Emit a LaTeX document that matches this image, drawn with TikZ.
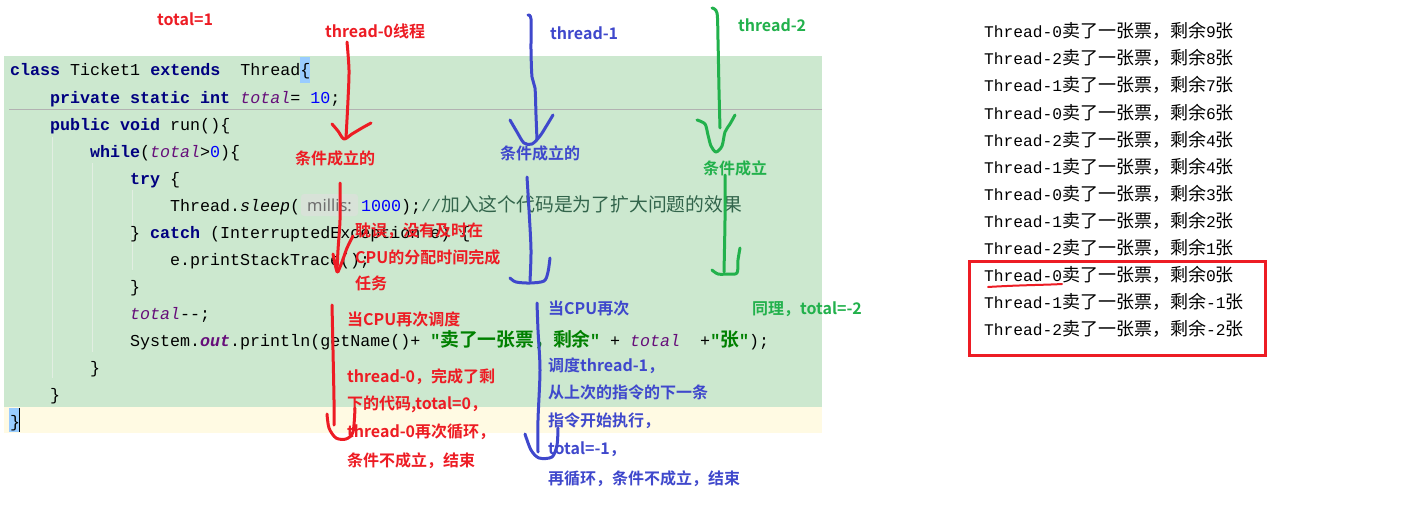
\documentclass[tikz,border=0pt]{standalone}
\usepackage{fontspec}
\newfontfamily\codefont{Liberation Mono}
\newfontfamily\cjk{Noto Sans CJK SC}[BoldFont={Noto Sans CJK SC Bold}]
\newfontfamily\hintfont{Noto Sans}
\newcommand\zc[1]{{\cjk\fontsize{18.8}{20}\selectfont #1}}
\newcommand\zo[1]{{\cjk\fontsize{18}{20}\selectfont #1}}
\newcommand\kwd[1]{{\bfseries\color{kwc}#1}}
\newcommand\fldv[1]{{\itshape\color{fieldc}#1}}
\newcommand\numv[1]{{\color{numc}#1}}
\newcommand\strv[1]{{\bfseries\color{strc}#1}}
\definecolor{codebg}{RGB}{204,232,207}
\definecolor{curbg}{RGB}{255,250,227}
\definecolor{kwc}{RGB}{0,0,128}
\definecolor{fieldc}{RGB}{102,14,122}
\definecolor{numc}{RGB}{0,0,255}
\definecolor{strc}{RGB}{0,128,0}
\definecolor{cmtc}{RGB}{50,100,75}
\definecolor{hintbg}{RGB}{216,226,216}
\definecolor{hinttx}{RGB}{110,110,110}
\definecolor{bracebg}{RGB}{153,204,255}
\definecolor{guide}{RGB}{226,238,226}
\definecolor{annR}{RGB}{237,28,36}
\definecolor{annB}{RGB}{63,72,204}
\definecolor{annG}{RGB}{34,177,76}
\tikzset{
  code/.style={anchor=base west, inner sep=0, font=\codefont\fontsize{16.67}{20}\selectfont, text=black},
  outl/.style={anchor=base west, inner sep=0, font=\codefont\fontsize{16.25}{18}\selectfont, text=black},
  ann/.style={anchor=base west, inner sep=0, font=\cjk\bfseries\fontsize{16}{18}\selectfont},
  hintbox/.style={fill=hintbg, rounded corners=3, inner sep=0, minimum width=57, minimum height=22, text=hinttx, font=\hintfont\fontsize{16.5}{17}\selectfont},
  pen/.style={line width=3, line cap=round, line join=round},
}
\begin{document}
\begin{tikzpicture}[x=1pt,y=-1pt]
\useasboundingbox (0,0) rectangle (1427,519);
\fill[white] (0,0) rectangle (1427,519);
% code background
\fill[codebg] (4,56) rectangle (822,407);
\fill[curbg] (4,407) rectangle (822,433);
\draw[gray!60, line width=1] (9,109) -- (822,109);
% indent guides
\draw[guide, line width=1] (52,137) -- (52,378);
\draw[guide, line width=1] (92,163) -- (92,352);
\draw[guide, line width=1] (132,190) -- (132,270);
% brace highlights
\fill[bracebg] (300,57) rectangle (310,83);
\fill[bracebg] (9,408) rectangle (19,432);
\draw[black, line width=1.5] (19.5,408) -- (19.5,432);
% code lines
\node[code] (c1) at (10,76) {\kwd{class} Ticket1 \kwd{extends}\ \ Thread\{};
\node[code] (c2) at (50,103) {\kwd{private static int} \fldv{total}= \numv{10};};
\node[code] (c3) at (50,130) {\kwd{public void} run()\{};
\node[code] (c4) at (90,157) {\kwd{while}(\fldv{total}>\numv{0})\{};
\node[code] (c5) at (130,184) {\kwd{try} \{};
\node[code] (c6a) at (170,211) {Thread.{\itshape sleep}(};
\node[hintbox] (hint) at (329.5,205) {millis:};
\node[code] (c6b) at (361,211) {\numv{1000});{\color{cmtc}//\zc{加入这个代码是为了扩大问题的效果}}};
\node[code] (c7) at (130,238) {\} \kwd{catch} (InterruptedException e) \{};
\node[code] (c8) at (170,265) {e.printStackTrace();};
\node[code] (c9) at (130,292) {\}};
\node[code] (c10) at (130,319) {\fldv{total}-{}-;};
\node[code] (c11a) at (130,346) {System.{\bfseries\itshape\color{fieldc}out}.println(getName()+ \strv{"\zc{卖了一张票，剩余}}};
\node[code] (c11b) at (590,346) {\strv{"}\ +\ \fldv{total}\ \ +\strv{"\zc{张}"});};
\node[code] (c12) at (90,373) {\}};
\node[code] (c13) at (50,400) {\}};
\node[code] (c14) at (10,427) {\}};
% console output
\node[outl] (o1) at (984,38) {Thread-0\zo{卖了一张票，剩余}9\zo{张}};
\node[outl] (o2) at (984,65) {Thread-2\zo{卖了一张票，剩余}8\zo{张}};
\node[outl] (o3) at (984,92) {Thread-1\zo{卖了一张票，剩余}7\zo{张}};
\node[outl] (o4) at (984,119) {Thread-0\zo{卖了一张票，剩余}6\zo{张}};
\node[outl] (o5) at (984,146) {Thread-2\zo{卖了一张票，剩余}4\zo{张}};
\node[outl] (o6) at (984,173) {Thread-1\zo{卖了一张票，剩余}4\zo{张}};
\node[outl] (o7) at (984,200) {Thread-0\zo{卖了一张票，剩余}3\zo{张}};
\node[outl] (o8) at (984,227) {Thread-1\zo{卖了一张票，剩余}2\zo{张}};
\node[outl] (o9) at (984,254) {Thread-2\zo{卖了一张票，剩余}1\zo{张}};
\node[outl] (o10) at (984,281) {Thread-0\zo{卖了一张票，剩余}0\zo{张}};
\node[outl] (o11) at (984,308) {Thread-1\zo{卖了一张票，剩余}-1\zo{张}};
\node[outl] (o12) at (984,335) {Thread-2\zo{卖了一张票，剩余}-2\zo{张}};
\draw[annR, line width=3] (969,261) rectangle (1265,355);
\draw[annR, line width=2, line cap=round] (988,287) .. controls (1020,285) and (1045,285) .. (1062,284);
% red annotations
\node[ann, text=annR] (r0) at (157,26) {total=1};
\node[ann, text=annR] (r1) at (325,38) {thread-0线程};
\node[ann, text=annR] (r2) at (295,164) {条件成立的};
\node[ann, text=annR] (r3) at (355,236) {耽误，没有及时在};
\node[ann, text=annR] (r4) at (355,263) {CPU的分配时间完成};
\node[ann, text=annR] (r5) at (355,289) {任务};
\node[ann, text=annR] (r6) at (347,325) {当CPU再次调度};
\node[ann, text=annR] (r7) at (347,382) {thread-0，完成了剩};
\node[ann, text=annR] (r8) at (347,409) {下的代码,total=0，};
\node[ann, text=annR] (r9) at (347,437) {thread-0再次循环，};
\node[ann, text=annR] (r10) at (347,466) {条件不成立，结束};
% blue annotations
\node[ann, text=annB] (b1) at (550,40) {thread-1};
\node[ann, text=annB] (b2) at (500,159) {条件成立的};
\node[ann, text=annB] (b3) at (548,314) {当CPU再次};
\node[ann, text=annB] (b4) at (548,371) {调度thread-1，};
\node[ann, text=annB] (b5) at (548,398) {从上次的指令的下一条};
\node[ann, text=annB] (b6) at (548,426) {指令开始执行，};
\node[ann, text=annB] (b7) at (548,454) {total=-1，};
\node[ann, text=annB] (b8) at (548,484) {再循环，条件不成立，结束};
% green annotations
\node[ann, text=annG] (g1) at (738,32) {thread-2};
\node[ann, text=annG] (g2) at (703,174) {条件成立};
\node[ann, text=annG] (g3) at (752,314) {同理，total=-2};
% red strokes
\draw[pen, annR] plot[smooth] coordinates {(347,42) (349,70) (348,100) (346,138)};
\draw[pen, annR] plot[smooth] coordinates {(332,124) (338,131) (344,139) (352,134) (362,128) (371,123)};
\draw[pen, annR] plot[smooth] coordinates {(340,183) (340,220) (338,250) (337,271)};
\draw[pen, annR] plot[smooth] coordinates {(333,254) (335,264) (337,272)};
\draw[pen, annR] plot[smooth] coordinates {(353,236) (347,248) (342,262) (338,272)};
\draw[pen, annR] plot[smooth] coordinates {(332,305) (333,350) (334,400) (334,425)};
\draw[pen, annR] plot[smooth] coordinates {(327,414) (329,428) (336,438) (346,439) (353,432) (355,408)};
% blue strokes
\draw[pen, annB] plot[smooth] coordinates {(528,15) (531,19) (531,50) (532,77) (535,88) (536,115) (537,140)};
\draw[pen, annB] plot[smooth] coordinates {(510,120) (517,132) (524,143) (532,144) (540,136) (547,125) (553,115)};
\draw[pen, annB] plot[smooth] coordinates {(527,177) (529,210) (531,250) (530,281)};
\draw[pen, annB] plot[smooth] coordinates {(510,278) (516,282) (530,283) (544,281) (548,272) (550,258)};
\draw[pen, annB] plot[smooth] coordinates {(537,303) (538,330) (540,370) (538,420) (538,452)};
\draw[pen, annB] plot[smooth] coordinates {(525,434) (531,450) (539,458) (552,457) (557,445) (558,428)};
% green strokes
\draw[pen, annG] plot[smooth] coordinates {(712,8) (717,13) (718,40) (719,90) (720,128)};
\draw[pen, annG] plot[smooth] coordinates {(697,120) (705,124) (708,135) (711,146) (716,152) (722,146) (725,132) (730,124) (735,115)};
\draw[pen, annG] plot[smooth] coordinates {(725,175) (725,220) (724,272)};
\draw[pen, annG] plot[smooth] coordinates {(712,270) (718,274) (728,274) (737,273) (738,260) (740,248)};
\end{tikzpicture}
\end{document}
